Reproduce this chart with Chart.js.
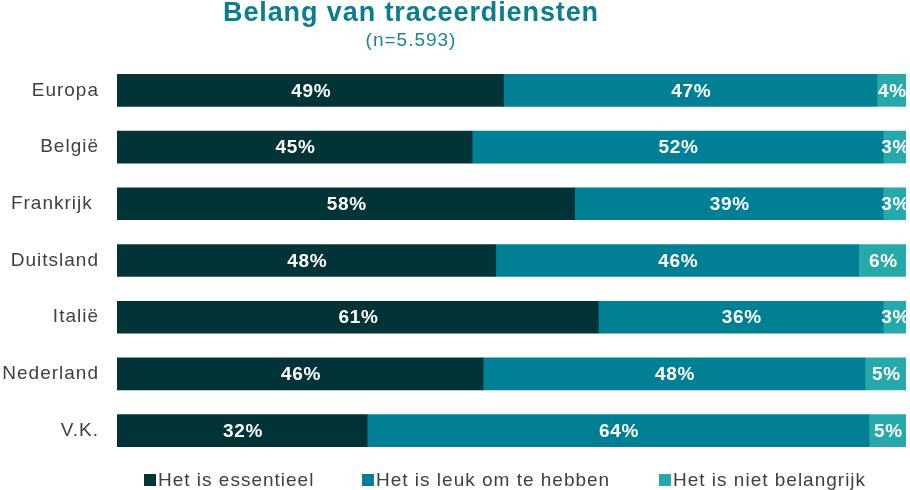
<!DOCTYPE html>
<html>
<head>
<meta charset="utf-8">
<script src="https://cdn.jsdelivr.net/npm/chart.js@4/dist/chart.umd.min.js"></script>
<style>
  html, body { margin: 0; padding: 0; background: #ffffff; }
  #wrap { width: 910px; height: 490px; }
</style>
</head>
<body>
<div id="wrap"><canvas id="c" width="910" height="490"></canvas></div>
<script>
// ---- data ----
const categories = ["Europa", "België", "Frankrijk ", "Duitsland", "Italië", "Nederland", "V.K."];
const seriesNames = ["Het is essentieel", "Het is leuk om te hebben", "Het is niet belangrijk"];
const essentieel = [49.0, 45.0, 58.0, 48.0, 61.0, 46.4, 31.7];
const leuk       = [47.3, 52.1, 39.1, 46.0, 36.1, 48.4, 63.6];
const nietBelang = [3.7, 2.9, 2.9, 6.0, 2.9, 5.2, 4.7];
const titleText = "Belang van traceerdiensten";
const subtitleText = "(n=5.593)";

const colors = ["#023437", "#018095", "#27A8AA"];
const FONT = "'Liberation Sans', Arial, Helvetica, sans-serif";
const SP = '1px';

const spacingPlugin = {
  id: 'spacing',
  beforeLayout(chart) { chart.ctx.letterSpacing = SP; },
  beforeDraw(chart) { chart.ctx.letterSpacing = SP; }
};

const labelPlugin = {
  id: 'barLabels',
  afterDatasetsDraw(chart) {
    const ctx = chart.ctx;
    const area = chart.chartArea;
    ctx.save();
    ctx.beginPath();
    ctx.rect(area.left, area.top, area.right - area.left, area.bottom - area.top);
    ctx.clip();
    ctx.letterSpacing = '0.7px';
    ctx.font = "bold 19px " + FONT;
    ctx.fillStyle = '#ffffff';
    ctx.textAlign = 'center';
    ctx.textBaseline = 'middle';
    chart.data.datasets.forEach((ds, di) => {
      const meta = chart.getDatasetMeta(di);
      meta.data.forEach((el, i) => {
        const v = ds.data[i];
        const cx = (el.x + el.base) / 2 + 1;
        ctx.fillText(Math.round(v) + '%', cx, el.y + 1);
      });
    });
    ctx.restore();
  }
};

const titlePlugin = {
  id: 'customTitle',
  afterDraw(chart) {
    const ctx = chart.ctx;
    ctx.save();
    ctx.textAlign = 'center';
    ctx.textBaseline = 'alphabetic';
    ctx.fillStyle = '#0A7E8E';
    ctx.letterSpacing = '0.9px';
    ctx.font = "bold 27px " + FONT;
    ctx.fillText(titleText, 411, 21);
    ctx.letterSpacing = '1px';
    ctx.fillStyle = '#1C8494';
    ctx.font = "19px " + FONT;
    ctx.fillText(subtitleText, 411, 46);
    ctx.restore();
  }
};

const legendPlugin = {
  id: 'customLegend',
  afterDraw(chart) {
    const ctx = chart.ctx;
    const boxX = [144, 362, 659];
    ctx.save();
    ctx.letterSpacing = SP;
    ctx.font = "19px " + FONT;
    ctx.textAlign = 'left';
    ctx.textBaseline = 'alphabetic';
    seriesNames.forEach((name, i) => {
      ctx.fillStyle = colors[i];
      ctx.fillRect(boxX[i], 474, 12, 12);
      ctx.fillStyle = '#404040';
      ctx.fillText(name, boxX[i] + 14, 486);
    });
    ctx.restore();
  }
};

new Chart(document.getElementById('c'), {
  type: 'bar',
  data: {
    labels: categories,
    datasets: [
      { label: seriesNames[0], data: essentieel, backgroundColor: colors[0] },
      { label: seriesNames[1], data: leuk, backgroundColor: colors[1] },
      { label: seriesNames[2], data: nietBelang, backgroundColor: colors[2] }
    ]
  },
  options: {
    indexAxis: 'y',
    responsive: false,
    animation: false,
    devicePixelRatio: 1,
    barThickness: 32,
    borderSkipped: false,
    layout: { padding: { top: 62, right: 4, bottom: 31, left: 0 } },
    plugins: {
      legend: { display: false },
      title: { display: false },
      tooltip: { enabled: false }
    },
    scales: {
      x: {
        stacked: true, display: false, min: 0, max: 100,
        grid: { display: false }
      },
      y: {
        stacked: true,
        grid: { display: false, drawTicks: false },
        border: { display: false },
        ticks: {
          color: '#404040',
          padding: 18,
          font: { family: FONT, size: 19 }
        },
        afterFit(scale) { scale.width = 117; }
      }
    }
  },
  plugins: [spacingPlugin, labelPlugin, titlePlugin, legendPlugin]
});
</script>
</body>
</html>
